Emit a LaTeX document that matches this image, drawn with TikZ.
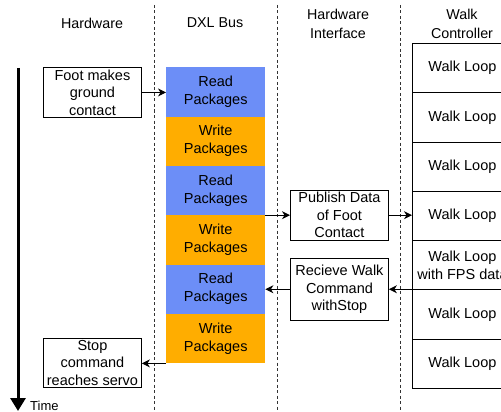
\documentclass[tikz,border=0pt]{standalone}
\usepackage{fontspec}
\setmainfont{Liberation Sans}
\usetikzlibrary{arrows.meta}
\definecolor{readblue}{HTML}{6C8EF7}
\definecolor{writeorange}{HTML}{FFAD00}
\definecolor{lanegray}{HTML}{333333}
\tikzset{
  lane/.style={draw=lanegray, line width=0.8pt, dash pattern=on 3pt off 2.5pt},
  header/.style={align=center, font=\fontsize{14.3}{18.5}\selectfont, inner sep=0},
  evbox/.style={draw=black, fill=white, line width=0.9pt, align=center, inner sep=0,
    minimum width=98pt, anchor=north west, font=\fontsize{14.5}{17.5}\selectfont},
  pkg/.style={draw=none, align=center, inner sep=0, minimum width=99pt,
    minimum height=49.33pt, anchor=north west, font=\fontsize{14.5}{18}\selectfont},
  readpkg/.style={pkg, fill=readblue},
  writepkg/.style={pkg, fill=writeorange},
  loopbox/.style={draw=black, fill=white, line width=0.9pt, align=center, inner sep=0,
    minimum width=100pt, minimum height=49.25pt, anchor=north west,
    font=\fontsize{14.5}{18}\selectfont},
  arr/.style={line width=0.9pt, -{Stealth[length=8pt,width=8pt,inset=2.5pt]}},
}
\begin{document}
\begin{tikzpicture}[x=1pt, y=-1pt]
\useasboundingbox (0,0) rectangle (501,412);
\clip (0,0) rectangle (501,412);

% swim lane separators
\foreach \lx/\nm in {154/l1, 277/l2, 400/l3} {
  \coordinate (\nm top) at (\lx,5);
  \coordinate (\nm bot) at (\lx,412);
  \draw[lane] (\nm top) -- (\nm bot);
}

% lane headers
\node[header] (hHw) at (92,23) {Hardware};
\node[header] (hDxl) at (215,23) {DXL Bus};
\node[header] (hIf) at (338,24) {Hardware\\Interface};
\node[header] (hWc) at (462,24) {Walk\\Controller};

% time axis
\coordinate (t0) at (18,68);
\coordinate (t1) at (18,411);
\draw[line width=3pt, -{Triangle[length=13pt,width=15pt]}] (t0) -- (t1);
\node[anchor=base west, inner sep=0, font=\fontsize{13}{14}\selectfont] (tl) at (30,410) {Time};

% hardware events
\node[evbox, minimum height=50pt] (foot) at (43,67) {Foot makes\\ground\\contact};
\node[evbox, minimum height=49pt] (stop) at (43,338) {Stop\\command\\reaches servo};

% DXL bus packages
\node[readpkg]  (r1) at (166,67)      {Read\\Packages};
\node[writepkg] (w1) at (166,116.33)  {Write\\Packages};
\node[readpkg]  (r2) at (166,165.67)  {Read\\Packages};
\node[writepkg] (w2) at (166,215)     {Write\\Packages};
\node[readpkg]  (r3) at (166,264.33)  {Read\\Packages};
\node[writepkg] (w3) at (166,313.67)  {Write\\Packages};

% hardware interface
\node[evbox, minimum height=49.5pt] (pub) at (290,190) {Publish Data\\of Foot\\Contact};
\node[evbox, minimum height=62pt] (rcv) at (290,258) {Recieve Walk\\Command\\withStop};

% walk controller loops
\node[loopbox] (wl1) at (412,43)     {Walk Loop};
\node[loopbox] (wl2) at (412,92.25)  {Walk Loop};
\node[loopbox] (wl3) at (412,141.5)  {Walk Loop};
\node[loopbox] (wl4) at (412,190.75) {Walk Loop};
\node[loopbox] (wl5) at (412,240)    {Walk Loop\\with FPS data};
\node[loopbox] (wl6) at (412,289.25) {Walk Loop};
\node[loopbox] (wl7) at (412,338.5)  {Walk Loop};

% message flow
\draw[arr] (foot.east) -- (foot.east -| r1.west);
\draw[arr] (pub.west -| r2.east) -- (pub.west);
\draw[arr] (pub.east) -- (pub.east -| wl4.west);
\draw[arr] (wl6.north east) -- (wl6.north west) -- (rcv.east |- wl6.north west);
\draw[arr] (rcv.west |- wl6.north west) -- (r3.east |- wl6.north west);
\draw[arr] (w3.south west) -- (stop.east |- w3.south west);
\end{tikzpicture}
\end{document}
